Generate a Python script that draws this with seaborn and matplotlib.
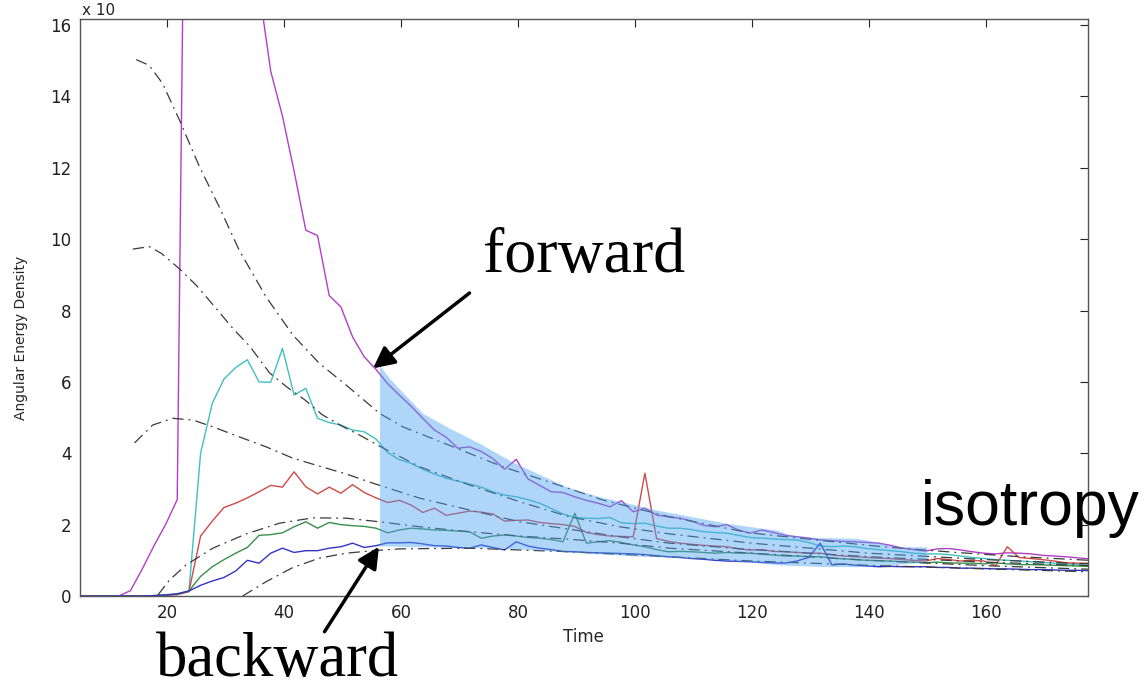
import numpy as np
import pandas as pd
import matplotlib
matplotlib.use("Agg")
import matplotlib.pyplot as plt
import seaborn as sns

# ---------------- data ----------------
TIME = [3.7, 5.7, 7.7, 9.7, 11.7, 13.7, 15.7, 17.7, 19.7, 21.7, 23.7, 25.7, 27.7, 29.7,
        31.7, 33.7, 35.7, 37.7, 39.7, 41.7, 43.7, 45.7, 47.7, 49.7, 51.7, 53.7, 55.7,
        57.7, 59.7, 61.7, 63.7, 65.7, 67.7, 69.7, 71.7, 73.7, 75.7, 77.7, 79.7, 81.7,
        83.7, 85.7, 87.7, 89.7, 91.7, 93.7, 95.7, 97.7, 99.7, 101.7, 103.7, 105.7,
        107.7, 109.7, 111.7, 113.7, 115.7, 117.7, 119.7, 121.7, 123.7, 125.7, 127.7,
        129.7, 131.7, 133.7, 135.7, 137.7, 139.7, 141.7, 143.7, 145.7, 147.7, 149.7,
        151.7, 153.7, 155.7, 157.7, 159.7, 161.7, 163.7, 165.7, 167.7, 169.7, 171.7,
        173.7, 175.7, 177.7]

magenta = [0, 0, 0, 0, 0, 0.15, 0.75, 1.4, 2.0, 2.7, 32, 45, 42, 35,
           27, 21, 17.0, 14.7, 13.45, 11.9, 10.25, 10.1, 8.42, 8.1, 7.26, 6.7, 6.35,
           5.95, 5.63, 5.32, 4.98, 4.65, 4.45, 4.14, 4.18, 4.05, 3.85, 3.55, 3.83, 3.28,
           3.1, 2.92, 2.9, 2.78, 2.68, 2.6, 2.5, 2.67, 2.36, 2.46, 2.27, 2.22,
           2.18, 2.1, 1.98, 1.94, 2.0, 1.85, 1.76, 1.85, 1.78, 1.7, 1.66,
           1.62, 1.57, 1.55, 1.53, 1.52, 1.5, 1.48, 1.42, 1.34, 1.3, 1.26,
           1.32, 1.33, 1.29, 1.24, 1.2, 1.18, 1.21, 1.2, 1.18, 1.14, 1.12,
           1.1, 1.07, 1.04]

cyan = [0, 0, 0, 0, 0, 0, 0, 0.01, 0.02, 0.04, 0.13, 4.0, 5.4, 6.08,
        6.4, 6.62, 6.0, 5.99, 6.94, 5.63, 5.82, 4.98, 4.86, 4.79, 4.65, 4.6, 4.4,
        4.02, 3.82, 3.72, 3.55, 3.42, 3.3, 3.22, 3.14, 3.05, 2.92, 2.83, 2.78, 2.7,
        2.6, 2.45, 2.3, 2.2, 2.18, 2.17, 2.2, 2.05, 2.03, 2.04, 1.96, 1.9,
        1.9, 1.86, 1.8, 1.78, 1.76, 1.7, 1.64, 1.62, 1.6, 1.58, 1.57,
        1.5, 1.4, 1.38, 1.4, 1.38, 1.33, 1.3, 1.27, 1.24, 1.2, 1.18,
        1.18, 1.16, 1.12, 1.08, 1.05, 1.02, 1.0, 0.98, 0.96, 0.94, 0.92,
        0.9, 0.88, 0.86]

red = [0, 0, 0, 0, 0, 0, 0, 0.01, 0.02, 0.04, 0.12, 1.68, 2.1, 2.48,
       2.6, 2.75, 2.92, 3.1, 3.05, 3.48, 3.06, 2.86, 3.05, 2.88, 3.12, 2.9, 2.75,
       2.62, 2.68, 2.55, 2.34, 2.46, 2.26, 2.32, 2.38, 2.35, 2.3, 2.1, 2.12, 2.13,
       2.06, 2.03, 2.0, 1.95, 1.78, 1.72, 1.68, 1.67, 1.66, 3.44, 1.61, 1.53,
       1.48, 1.45, 1.42, 1.4, 1.38, 1.32, 1.29, 1.3, 1.25, 1.24, 1.22,
       1.2, 1.2, 1.15, 1.12, 1.1, 1.08, 1.06, 1.05, 1.02, 1.0, 0.98,
       1.05, 1.02, 0.98, 1.0, 0.98, 0.85, 1.38, 1.08, 1.05, 1.02, 0.98,
       0.93, 0.92, 0.92]

green = [0, 0, 0, 0, 0, 0, 0, 0.01, 0.03, 0.06, 0.14, 0.55, 0.82, 1.02,
         1.2, 1.36, 1.7, 1.72, 1.77, 1.94, 2.08, 1.9, 2.06, 2.0, 1.97, 1.95, 1.9,
         1.77, 1.85, 1.9, 1.88, 1.85, 1.84, 1.82, 1.8, 1.62, 1.68, 1.71, 1.68, 1.64,
         1.62, 1.58, 1.52, 2.32, 1.48, 1.52, 1.55, 1.5, 1.43, 1.38, 1.3, 1.24,
         1.25, 1.24, 1.22, 1.2, 1.22, 1.2, 1.2, 1.17, 1.15, 1.12, 1.12,
         1.1, 1.1, 1.06, 1.04, 1.02, 1.0, 0.99, 0.98, 0.96, 0.95, 0.93,
         0.95, 0.93, 0.92, 0.92, 0.9, 0.93, 0.9, 0.88, 0.88, 0.87, 0.86,
         0.85, 0.84, 0.83]

blue = [0, 0, 0, 0, 0, 0, 0, 0.01, 0.03, 0.06, 0.14, 0.3, 0.42, 0.52,
        0.7, 1.0, 0.92, 1.2, 1.34, 1.22, 1.27, 1.27, 1.34, 1.38, 1.48, 1.36, 1.41,
        1.49, 1.49, 1.5, 1.46, 1.41, 1.4, 1.36, 1.34, 1.43, 1.36, 1.29, 1.52, 1.4,
        1.34, 1.3, 1.25, 1.24, 1.22, 1.21, 1.2, 1.19, 1.18, 1.16, 1.13, 1.1,
        1.08, 1.05, 1.03, 1.0, 0.98, 0.97, 0.96, 0.94, 0.93, 0.92, 0.98,
        1.08, 1.48, 0.87, 0.9, 0.86, 0.84, 0.82, 0.83, 0.82, 0.82, 0.82,
        0.8, 0.8, 0.78, 0.78, 0.77, 0.76, 0.76, 0.75, 0.74, 0.74, 0.73,
        0.72, 0.72, 0.71]

# smooth reference curves (dash-dot)
ref1_t = [14.7, 16.9, 19.2, 22.1, 25.5, 28.9, 32.3, 36.9, 41.5, 46.0, 50.6, 56.3,
          60.3, 68.9, 77.4, 86.0, 94.5, 105.9, 119.6, 131.0, 142.4, 155.0, 166.0, 177.7]
ref1_y = [15.03, 14.87, 14.36, 13.33, 12.03, 10.9, 9.69, 8.38, 7.31, 6.52, 5.91, 5.12,
          4.74, 4.18, 3.62, 3.16, 2.69, 2.22, 1.77, 1.57, 1.38, 1.22, 1.1, 1.0]

ref2_t = [14.1, 16.9, 19.0, 22.0, 25.0, 28.4, 31.2, 34.1, 37.5, 40.5, 43.5, 46.5, 50.0,
          53.0, 56.3, 63.2, 71.7, 80.3, 88.8, 97.4, 105.9, 120.0, 140.0, 160.0, 177.7]
ref2_y = [9.72, 9.79, 9.6, 9.18, 8.7, 8.05, 7.5, 7.0, 6.25, 5.85, 5.5, 5.08, 4.75,
          4.5, 4.2, 3.62, 3.11, 2.64, 2.22, 1.94, 1.74, 1.48, 1.2, 1.02, 0.9]

ref3_t = [14.4, 17.5, 20.9, 24.4, 27.8, 32.3, 36.9, 41.5, 46.0, 50.6, 55.2, 63.2, 71.7,
          80.3, 88.8, 97.4, 105.9, 120.0, 140.0, 160.0, 177.7]
ref3_y = [4.29, 4.79, 4.98, 4.93, 4.74, 4.46, 4.18, 3.86, 3.64, 3.42, 3.16, 2.74, 2.41,
          2.08, 1.87, 1.66, 1.48, 1.3, 1.1, 0.95, 0.85]

ref4_t = [18.4, 20.4, 23.2, 27.8, 33.5, 39.2, 44.9, 50.6, 56.3, 63.2, 71.7, 80.3, 88.8,
          97.4, 105.9, 120.0, 140.0, 160.0, 177.7]
ref4_y = [0.03, 0.45, 0.87, 1.34, 1.74, 2.04, 2.19, 2.18, 2.08, 1.94, 1.80, 1.68, 1.59,
          1.48, 1.34, 1.2, 1.0, 0.85, 0.75]

ref5_t = [32.9, 36.9, 41.5, 46.0, 50.6, 55.2, 59.7, 71.7, 88.8, 105.9, 120.0, 140.0,
          160.0, 177.7]
ref5_y = [0.0, 0.40, 0.80, 1.06, 1.20, 1.27, 1.32, 1.34, 1.24, 1.10, 0.98, 0.86, 0.76,
          0.68]

# highlighted band
band_t = [56.3, 58.0, 60.0, 63.7, 68.3, 73.4, 79.0, 88.3, 94.0, 100.2, 104.0, 108.2,
          115.6, 121.3, 124.2, 126.5, 131.0, 137.9, 141.3, 144.7, 149.9]
band_upper = [6.47, 6.1, 5.75, 5.12, 4.7, 4.28, 3.76, 3.06, 2.78, 2.55, 2.4, 2.27,
              2.04, 1.91, 1.85, 1.71, 1.64, 1.62, 1.52, 1.38, 1.38]
band_lower = [1.40, 1.40, 1.39, 1.38, 1.37, 1.36, 1.33, 1.24, 1.18, 1.12, 1.10, 1.07,
              1.0, 0.93, 0.88, 0.86, 0.83, 0.82, 0.85, 0.88, 0.96]

x_ticks = [20, 40, 60, 80, 100, 120, 140, 160]
y_ticks = [0, 2, 4, 6, 8, 10, 12, 14, 16]

# ---------------- figure ----------------
sns.set_style("white")
plt.rcParams['font.family'] = ['DejaVu Sans']

W, H = 1148, 692
fig = plt.figure(figsize=(W / 100, H / 100), dpi=100)
ax = fig.add_axes([80 / W, 1 - 596 / H, (1088 - 80) / W, (596 - 19.3) / H])

series = [
    (magenta, '#b23ec6'),
    (cyan, '#3fc0c0'),
    (red, '#d24848'),
    (green, '#3a8f4a'),
    (blue, '#3434c4'),
]
for vals, col in series:
    sns.lineplot(x=TIME, y=vals, ax=ax, color=col, linewidth=1.0,
                 estimator=None, sort=False, zorder=2)

refs = [(ref1_t, ref1_y), (ref2_t, ref2_y), (ref3_t, ref3_y),
        (ref4_t, ref4_y), (ref5_t, ref5_y)]
for rt, ry in refs:
    sns.lineplot(x=rt, y=ry, ax=ax, color='#3a3a3a', linewidth=0.9,
                 linestyle=(0, (9, 4, 1.5, 4)), estimator=None, sort=False, zorder=2)

ax.fill_between(band_t, band_lower, band_upper, color='#4fa3f3', alpha=0.45,
                linewidth=0, zorder=3)

ax.set_xlim(5.07, 177.5)
ax.set_ylim(0, 16.16)
ax.set_xticks(x_ticks)
ax.set_yticks(y_ticks)
ax.tick_params(direction='in', length=6, width=0.8, top=True, right=True,
               labelsize=12, colors='#222222', pad=6)
for sp in ax.spines.values():
    sp.set_visible(True)
    sp.set_color('#555555')
    sp.set_linewidth(1.0)

ax.set_xlabel('Time', fontsize=12)
ax.set_ylabel('Angular Energy Density', fontsize=10)
ax.xaxis.set_label_coords((583 - 80) / (1088 - 80), -(628 - 596) / (596 - 19.3))
ax.yaxis.set_label_coords(-(80 - 28) / (1088 - 80), (596 - 338) / (596 - 19.3))

# exponent label at the top-left corner
fig.text(82 / W, 1 - 15 / H, 'x 10', fontsize=11, va='baseline', ha='left',
         color='#222222')

# arrows
ax.annotate('', xy=(55.2, 6.38), xytext=(71.7, 8.49),
            arrowprops=dict(arrowstyle='-|>', color='black', lw=2.5,
                            mutation_scale=32, shrinkA=0, shrinkB=0),
            annotation_clip=False, zorder=6)
ax.annotate('', xy=(56.2, 1.38), xytext=(46.9, -1.0),
            arrowprops=dict(arrowstyle='-|>', color='black', lw=2.5,
                            mutation_scale=32, shrinkA=0, shrinkB=0),
            annotation_clip=False, zorder=6)

# annotations
fig.text(483 / W, 1 - 272 / H, 'forward', fontsize=46, family='Liberation Serif',
         va='baseline', ha='left', color='black')
fig.text(156 / W, 1 - 676 / H, 'backward', fontsize=45, family='Liberation Serif',
         va='baseline', ha='left', color='black')
fig.text(921 / W, 1 - 525 / H, 'isotropy', fontsize=45, family='Liberation Sans',
         va='baseline', ha='left', color='black', zorder=10)

fig.savefig('out.png', dpi=100)
